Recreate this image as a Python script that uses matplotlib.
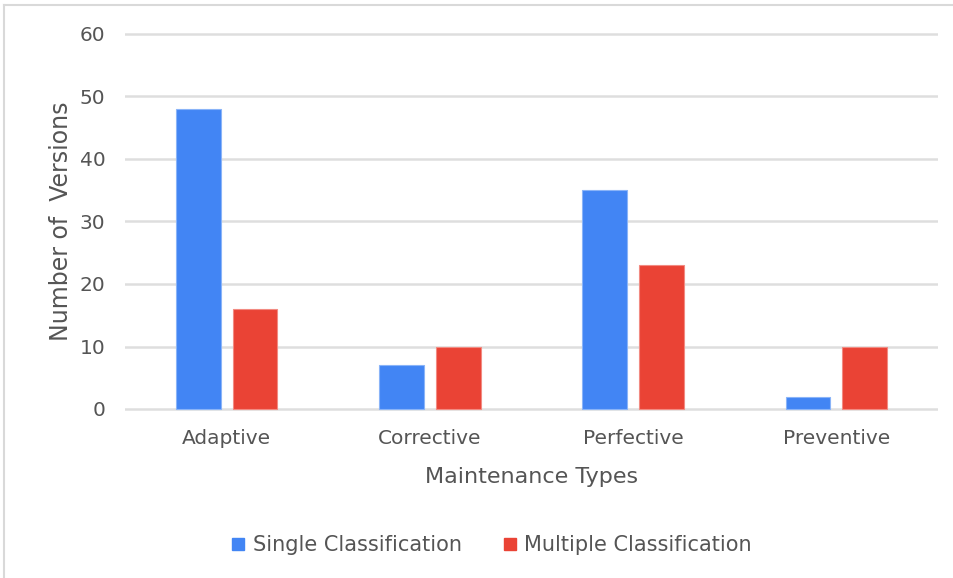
import matplotlib
matplotlib.use("Agg")
import matplotlib.pyplot as plt
from matplotlib.lines import Line2D
import numpy as np

categories = ["Adaptive", "Corrective", "Perfective", "Preventive"]
single_classification = [48, 7, 35, 2]
multiple_classification = [16, 10, 23, 10]
y_ticks = [0, 10, 20, 30, 40, 50, 60]
series_names = ["Single Classification", "Multiple Classification"]

BLUE = "#4285F4"
RED = "#EA4335"
TEXT = "#555555"
GRID = "#dedede"

plt.rcParams["font.family"] = ["DejaVu Sans"]

W, H = 954, 578
fig = plt.figure(figsize=(W / 100, H / 100), dpi=100)

# axes placed in pixel terms
ext = 0.3
top_px, bot_px = 34 - ext * 6.25, 409 + ext * 6.25
left_px, right_px = 125, 938
ax = fig.add_axes([left_px / W, 1 - bot_px / H, (right_px - left_px) / W, (bot_px - top_px) / H])

x = np.arange(len(categories))
width = 0.22
offset = 0.14
ax.bar(x - offset, single_classification, width, color=BLUE, edgecolor="#8ab4f8", linewidth=0.8, zorder=3)
ax.bar(x + offset, multiple_classification, width, color=RED, edgecolor="#f28b82", linewidth=0.8, zorder=3)

ax.set_xlim(-0.5, len(categories) - 0.5)
ax.set_ylim(-ext, 60 + ext)
ax.set_yticks(y_ticks)
for yv in y_ticks:
    ax.axhline(yv, color=GRID, linewidth=1.8, zorder=1)

ax.set_xticks(x)
ax.set_xticklabels(categories)
for s in ax.spines.values():
    s.set_visible(False)
ax.tick_params(axis="both", length=0, colors=TEXT, labelsize=14.5)
ax.tick_params(axis="y", pad=14)
ax.tick_params(axis="x", pad=13)

ax.set_xlabel("Maintenance Types", fontsize=16, color=TEXT, labelpad=14)
ax.set_ylabel("Number of  Versions", fontsize=17, color=TEXT, labelpad=5)

handles = [
    Line2D([], [], marker="s", linestyle="none", markersize=8, color=BLUE),
    Line2D([], [], marker="s", linestyle="none", markersize=8, color=RED),
]
fig.legend(handles, series_names, loc="center", bbox_to_anchor=(492 / W, 1 - 545 / H),
           ncol=2, frameon=False, fontsize=15, labelcolor=TEXT,
           handlelength=0.6, handletextpad=0.4, columnspacing=2.0)

# light border on the top and left edges
fig.add_artist(Line2D([4 / W, 4 / W], [0, 1 - 5 / H], transform=fig.transFigure, color="#d9d9d9", linewidth=1.5))
fig.add_artist(Line2D([4 / W, 1], [1 - 5 / H, 1 - 5 / H], transform=fig.transFigure, color="#d9d9d9", linewidth=1.5))

fig.savefig("out.png", dpi=100)
